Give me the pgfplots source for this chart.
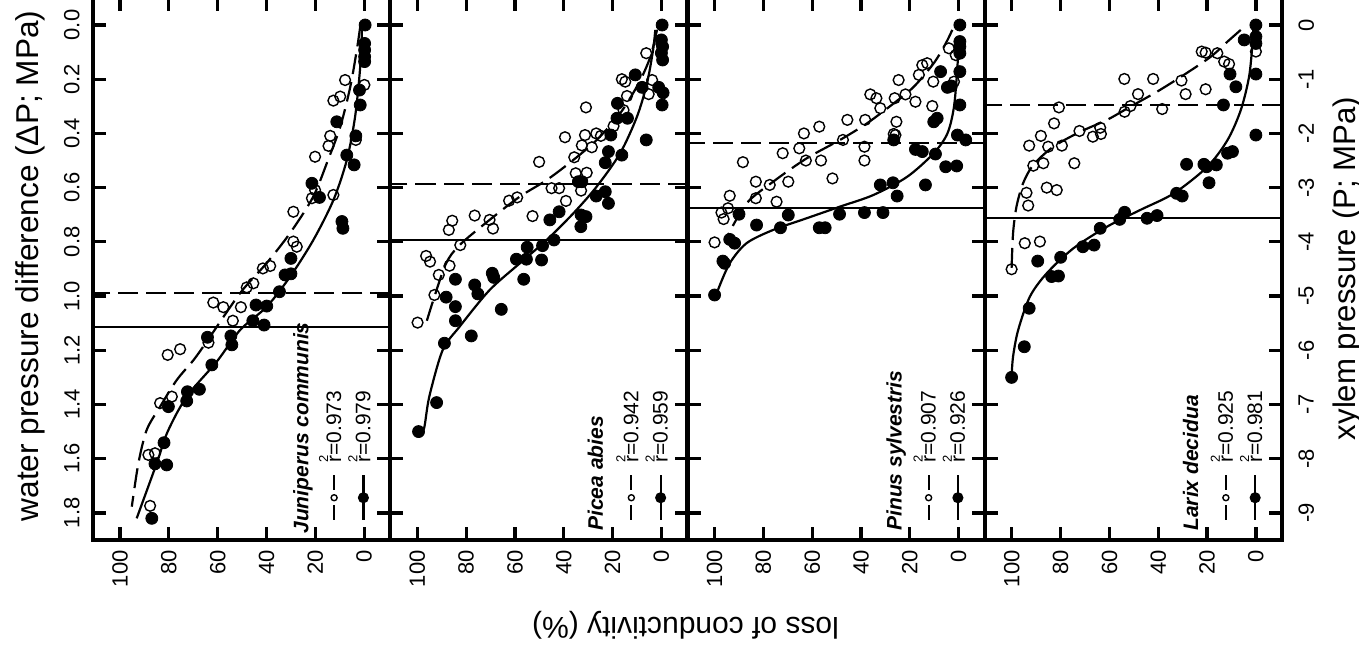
\documentclass[border=0pt]{standalone}
\usepackage{pgfplots}
\pgfplotsset{compat=1.18}
\usepackage{fontspec}
\setmainfont{Liberation Sans}
\newcommand\ticksize{\fontsize{11pt}{13pt}\selectfont}
\newcommand\legsize{\fontsize{10.5pt}{12pt}\selectfont}
\newcommand\rsq{r\llap{\raisebox{0.62em}{\fontsize{6.5pt}{7pt}\selectfont 2}}}
\tikzset{
  legtext/.style={rotate=90, anchor=base west, inner sep=0pt, font=\legsize},
  spname/.style={rotate=90, anchor=base west, inner sep=0pt, font=\legsize\bfseries\itshape},
}
\pgfplotsset{
  panel/.style={
    scale only axis, width=148.625pt, height=271.05pt,
    anchor=south west,
    xmin=-10.7, xmax=111.1, ymin=-0.1, ymax=1.9,
    x dir=reverse, y dir=reverse,
    axis line style={line width=2.2pt, line cap=rect},
    tick align=inside, tick pos=both, major tick length=6.5pt,
    tick style={black, line width=1.6pt},
    xtick={0,20,40,60,80,100},
    xticklabels={0,20,40,60,80,100},
    xticklabel pos=lower,
    xticklabel style={yshift=-5pt, rotate=90, anchor=east, inner sep=0pt, font=\ticksize},
    ytick={0,0.2,0.4,0.6,0.8,1,1.2,1.4,1.6,1.8},
    yticklabels={},
  },
  opendata/.style={black, only marks, mark=o, mark size=2.7pt, mark options={line width=0.7pt}, forget plot},
  filldata/.style={black, only marks, mark=*, mark size=3pt, forget plot},
  fitdash/.style={black, no marks, line width=1.1pt, dash pattern=on 10pt off 4pt, smooth, forget plot},
  fitsolid/.style={black, no marks, line width=1.1pt, smooth, forget plot},
  hdash/.style={black, no marks, line width=1pt, dash pattern=on 10pt off 4pt, forget plot},
  hsolid/.style={black, no marks, line width=1pt, forget plot},
  legdash/.style={black, line width=1.1pt, dash pattern=on 7.5pt off 7.5pt, mark=o, mark size=1.5pt, mark options={solid, line width=0.7pt}, mark indices={2}, forget plot},
  legsolid/.style={black, line width=1.1pt, mark=*, mark size=2.2pt, mark indices={2}, forget plot},
}
\begin{document}
\begin{tikzpicture}
% ---------------- Panel 1: Juniperus communis ----------------
\begin{axis}[panel, at={(46.5pt,59.5pt)},
  yticklabel pos=left,
  yticklabels={0.0,0.2,0.4,0.6,0.8,1.0,1.2,1.4,1.6,1.8},
  yticklabel style={xshift=-6.5pt, rotate=90, anchor=south, inner sep=0pt, font=\ticksize}]
\addplot[hdash] coordinates {(-10.7,0.99) (111.1,0.99)};
\addplot[hsolid] coordinates {(-10.7,1.114) (111.1,1.114)};
\addplot[fitdash] coordinates {(1.6,0.006) (3.0,0.092) (5.7,0.229) (9.8,0.376) (14.8,0.498) (20.9,0.634) (30.3,0.767) (39.9,0.878) (50.8,0.989) (64.5,1.168) (69.9,1.236) (76.8,1.310) (83.6,1.408) (89.1,1.494) (92.5,1.617) (95.2,1.777)};
\addplot[fitsolid] coordinates {(0.9,0.018) (1.6,0.154) (3.7,0.338) (7.1,0.498) (12.6,0.646) (20.8,0.793) (30.3,0.928) (39.9,1.039) (50.8,1.125) (60.4,1.242) (72.7,1.371) (80.5,1.500) (85.0,1.617) (93.2,1.820)};
\addplot[opendata] coordinates {(7.8,0.203) (9.8,0.264) (12.6,0.279) (-0.1,0.221) (13.9,0.409) (14.6,0.446) (20.1,0.486) (3.4,0.424) (12.6,0.627) (20.1,0.609) (21.4,0.639) (29.0,0.689) (29.0,0.799) (27.6,0.818) (38.5,0.889) (41.5,0.898) (45.4,0.953) (48.1,0.968) (61.8,1.024) (57.7,1.041) (50.5,1.041) (53.8,1.091) (63.8,1.172) (75.4,1.196) (80.5,1.217) (83.6,1.395) (78.8,1.371) (88.4,1.586) (85.7,1.580) (87.7,1.774)};
\addplot[filldata] coordinates {(-0.4,0.000) (-0.2,0.068) (-0.2,0.092) (-0.2,0.117) (-0.2,0.135) (1.9,0.240) (1.6,0.295) (11.2,0.357) (3.4,0.409) (7.1,0.480) (4.1,0.516) (21.4,0.584) (18.3,0.636) (9.1,0.725) (8.7,0.750) (30.0,0.861) (32.4,0.922) (30.0,0.918) (34.7,0.984) (44.3,1.033) (39.9,1.037) (45.6,1.091) (41.0,1.107) (64.2,1.152) (54.6,1.147) (54.2,1.180) (62.4,1.254) (67.5,1.344) (72.4,1.353) (72.7,1.387) (80.2,1.408) (82.0,1.541) (85.7,1.619) (80.9,1.623) (87.0,1.820)};
\addplot[legdash] coordinates {(12.3,1.826) (12.3,1.744) (12.3,1.660)};
\addplot[legsolid] coordinates {(0.3,1.826) (0.3,1.744) (0.3,1.660)};
\node[legtext] at (axis cs:9.4,1.616) {\rsq=0.973};
\node[legtext] at (axis cs:-2.6,1.616) {\rsq=0.979};
\node[spname] at (axis description cs:0.7243,0.0110) {Juniperus communis};
\end{axis}
% ---------------- Panel 2: Picea abies ----------------
\begin{axis}[panel, at={(195.125pt,59.5pt)}]
\addplot[hdash] coordinates {(-10.7,0.585) (111.1,0.585)};
\addplot[hsolid] coordinates {(-10.7,0.793) (111.1,0.793)};
\addplot[fitdash] coordinates {(1.8,0.018) (4.5,0.117) (9.3,0.215) (16.9,0.326) (26.5,0.424) (36.1,0.498) (47.0,0.572) (58.0,0.633) (70.4,0.719) (82.7,0.812) (88.2,0.879) (93.0,1.002) (96.4,1.100)};
\addplot[fitsolid] coordinates {(2.5,0.018) (3.4,0.092) (5.9,0.215) (10.0,0.338) (16.9,0.473) (26.5,0.596) (36.1,0.695) (47.0,0.793) (58.0,0.879) (70.4,0.978) (82.7,1.113) (89.6,1.199) (95.1,1.371) (97.3,1.490) (99.5,1.500)};
\addplot[opendata] coordinates {(6.2,0.104) (16.2,0.200) (14.8,0.209) (3.8,0.203) (14.1,0.262) (5.2,0.255) (30.9,0.304) (15.5,0.314) (19.6,0.373) (39.5,0.414) (31.3,0.406) (26.7,0.400) (24.8,0.409) (32.6,0.444) (28.5,0.451) (35.7,0.488) (50.1,0.505) (35.1,0.547) (30.6,0.545) (32.9,0.611) (45.0,0.602) (41.9,0.602) (39.1,0.649) (59.1,0.636) (62.4,0.648) (52.8,0.705) (76.5,0.703) (70.4,0.719) (69.0,0.751) (85.7,0.722) (87.1,0.756) (82.4,0.812) (96.4,0.852) (94.8,0.873) (86.8,0.888) (91.2,0.922) (93.0,0.996) (99.9,1.098) (0.0,0.070) (0.0,0.100)};
\addplot[filldata] coordinates {(-0.3,0.000) (0.0,0.055) (-0.5,0.080) (0.0,0.104) (-0.5,0.129) (10.7,0.184) (7.9,0.230) (1.1,0.230) (-0.7,0.250) (-0.3,0.295) (18.0,0.289) (18.2,0.344) (13.9,0.344) (20.7,0.406) (6.2,0.424) (21.7,0.467) (16.2,0.480) (23.0,0.508) (34.0,0.578) (32.6,0.578) (23.0,0.615) (26.7,0.631) (21.7,0.658) (41.9,0.689) (45.7,0.719) (32.9,0.701) (30.9,0.707) (33.0,0.744) (44.0,0.793) (48.7,0.814) (55.0,0.820) (59.4,0.864) (55.3,0.864) (49.1,0.867) (56.4,0.938) (69.3,0.916) (68.7,0.931) (76.5,0.959) (75.2,0.992) (84.4,0.938) (88.2,1.004) (84.4,1.039) (84.4,1.091) (65.6,1.049) (88.9,1.174) (77.9,1.147) (92.1,1.393) (99.5,1.500)};
\addplot[legdash] coordinates {(12.3,1.826) (12.3,1.744) (12.3,1.660)};
\addplot[legsolid] coordinates {(0.3,1.826) (0.3,1.744) (0.3,1.660)};
\node[legtext] at (axis cs:9.4,1.616) {\rsq=0.942};
\node[legtext] at (axis cs:-2.6,1.616) {\rsq=0.959};
\node[spname] at (axis description cs:0.7150,0.0166) {Picea abies};
\end{axis}
% ---------------- Panel 3: Pinus sylvestris ----------------
\begin{axis}[panel, at={(343.75pt,59.5pt)}]
\addplot[hdash] coordinates {(-10.7,0.435) (111.1,0.435)};
\addplot[hsolid] coordinates {(-10.7,0.674) (111.1,0.674)};
\addplot[fitdash] coordinates {(2.6,0.018) (5.3,0.068) (10.2,0.141) (18.4,0.228) (26.6,0.289) (37.6,0.363) (48.6,0.424) (62.3,0.492) (76.0,0.578) (86.9,0.658) (94.8,0.780)};
\addplot[fitsolid] coordinates {(-0.1,0.043) (0.5,0.154) (1.9,0.301) (4.6,0.400) (10.2,0.473) (21.1,0.560) (34.9,0.627) (48.6,0.670) (62.3,0.713) (76.0,0.756) (86.9,0.805) (93.8,0.879) (98.6,0.977)};
\addplot[opendata] coordinates {(4.0,0.086) (1.2,0.111) (12.9,0.141) (14.9,0.148) (16.3,0.184) (24.6,0.203) (10.4,0.209) (1.9,0.209) (36.2,0.256) (33.7,0.270) (21.8,0.256) (26.2,0.270) (32.1,0.307) (17.7,0.283) (10.8,0.299) (45.6,0.350) (38.3,0.350) (25.5,0.357) (57.1,0.375) (63.4,0.400) (26.6,0.402) (25.9,0.406) (47.4,0.424) (65.3,0.455) (38.6,0.449) (72.1,0.473) (88.4,0.506) (62.6,0.500) (56.4,0.500) (38.6,0.500) (51.7,0.566) (83.1,0.578) (77.4,0.590) (69.8,0.578) (93.8,0.630) (83.1,0.639) (74.6,0.652) (94.5,0.676) (97.2,0.692) (96.3,0.716) (100.0,0.802)};
\addplot[filldata] coordinates {(-0.5,0.000) (-0.5,0.061) (-0.5,0.080) (-0.5,0.104) (-0.5,0.172) (7.4,0.172) (4.6,0.230) (3.0,0.225) (-0.5,0.295) (10.2,0.357) (8.8,0.344) (26.6,0.424) (0.5,0.406) (-2.9,0.424) (17.7,0.459) (14.9,0.467) (9.5,0.476) (5.3,0.523) (0.8,0.520) (32.1,0.590) (26.9,0.582) (13.6,0.590) (25.2,0.631) (90.0,0.698) (69.8,0.701) (48.8,0.698) (38.6,0.692) (31.0,0.692) (82.8,0.738) (73.0,0.748) (57.1,0.748) (54.7,0.748) (93.8,0.791) (91.8,0.805) (96.6,0.871) (95.9,0.879) (100.0,0.996)};
\addplot[legdash] coordinates {(12.3,1.826) (12.3,1.744) (12.3,1.660)};
\addplot[legsolid] coordinates {(0.3,1.826) (0.3,1.744) (0.3,1.660)};
\node[legtext] at (axis cs:9.4,1.616) {\rsq=0.907};
\node[legtext] at (axis cs:-2.6,1.616) {\rsq=0.926};
\node[spname] at (axis description cs:0.7200,0.0166) {Pinus sylvestris};
\end{axis}
% ---------------- Panel 4: Larix decidua ----------------
\begin{axis}[panel, at={(492.375pt,59.5pt)},
  yticklabel pos=right,
  yticklabels={0,-1,-2,-3,-4,-5,-6,-7,-8,-9},
  yticklabel style={xshift=8pt, rotate=90, anchor=north, inner sep=0pt, font=\ticksize}]
\addplot[hdash] coordinates {(-10.7,0.294) (111.1,0.294)};
\addplot[hsolid] coordinates {(-10.7,0.711) (111.1,0.711)};
\addplot[fitdash] coordinates {(6.2,0.018) (11.6,0.061) (18.5,0.117) (29.5,0.184) (40.5,0.246) (51.4,0.301) (61.0,0.350) (72.0,0.394) (83.0,0.449) (91.2,0.516) (95.4,0.584) (98.1,0.670) (99.5,0.768) (100.1,0.898)};
\addplot[fitsolid] coordinates {(1.0,0.006) (1.4,0.068) (2.8,0.191) (6.2,0.314) (11.6,0.424) (19.9,0.523) (33.6,0.621) (47.3,0.682) (61.0,0.744) (74.8,0.824) (85.7,0.916) (92.6,1.002) (97.4,1.125) (99.5,1.223) (100.1,1.297)};
\addplot[opendata] coordinates {(22.2,0.098) (20.6,0.102) (15.8,0.104) (0.0,0.098) (13.0,0.135) (11.0,0.144) (53.9,0.199) (42.1,0.199) (30.5,0.205) (20.6,0.237) (48.3,0.255) (28.8,0.255) (80.7,0.304) (51.4,0.299) (38.4,0.310) (53.8,0.320) (82.7,0.363) (72.3,0.391) (63.8,0.379) (88.1,0.409) (66.8,0.412) (63.5,0.402) (92.9,0.445) (85.1,0.449) (79.5,0.445) (91.2,0.519) (87.1,0.510) (74.4,0.510) (94.0,0.619) (85.7,0.600) (81.6,0.609) (93.3,0.666) (94.7,0.805) (88.5,0.799) (100.1,0.901)};
\addplot[filldata] coordinates {(0.0,0.000) (0.0,0.043) (0.0,0.068) (4.8,0.055) (10.6,0.181) (0.0,0.181) (8.2,0.228) (13.3,0.295) (0.0,0.406) (9.6,0.467) (11.6,0.473) (28.4,0.514) (21.3,0.514) (20.2,0.523) (16.2,0.516) (19.2,0.582) (32.5,0.621) (30.2,0.631) (44.6,0.713) (40.5,0.703) (53.8,0.691) (55.8,0.717) (63.8,0.750) (70.9,0.818) (66.3,0.812) (80.0,0.857) (89.4,0.871) (83.7,0.928) (80.9,0.926) (92.9,1.045) (94.9,1.187) (100.1,1.300)};
\addplot[legdash] coordinates {(12.3,1.826) (12.3,1.744) (12.3,1.660)};
\addplot[legsolid] coordinates {(0.3,1.826) (0.3,1.744) (0.3,1.660)};
\node[legtext] at (axis cs:9.4,1.616) {\rsq=0.925};
\node[legtext] at (axis cs:-2.6,1.616) {\rsq=0.981};
\node[spname] at (axis description cs:0.7180,0.0166) {Larix decidua};
\end{axis}
% ---------------- axis titles ----------------
\node[rotate=90, font=\fontsize{15.8pt}{18pt}\selectfont] at (15pt,196.5pt) {water pressure difference (ΔP; MPa)};
\node[rotate=90, font=\fontsize{15.6pt}{18pt}\selectfont] at (673.5pt,195.25pt) {xylem pressure (P; MPa)};
\node[rotate=180, font=\fontsize{15pt}{18pt}\selectfont] at (342.75pt,17pt) {loss of conductivity (\%)};
\pgfresetboundingbox
\path[use as bounding box] (0,0) rectangle (679.5pt,329.5pt);
\end{tikzpicture}
\end{document}
